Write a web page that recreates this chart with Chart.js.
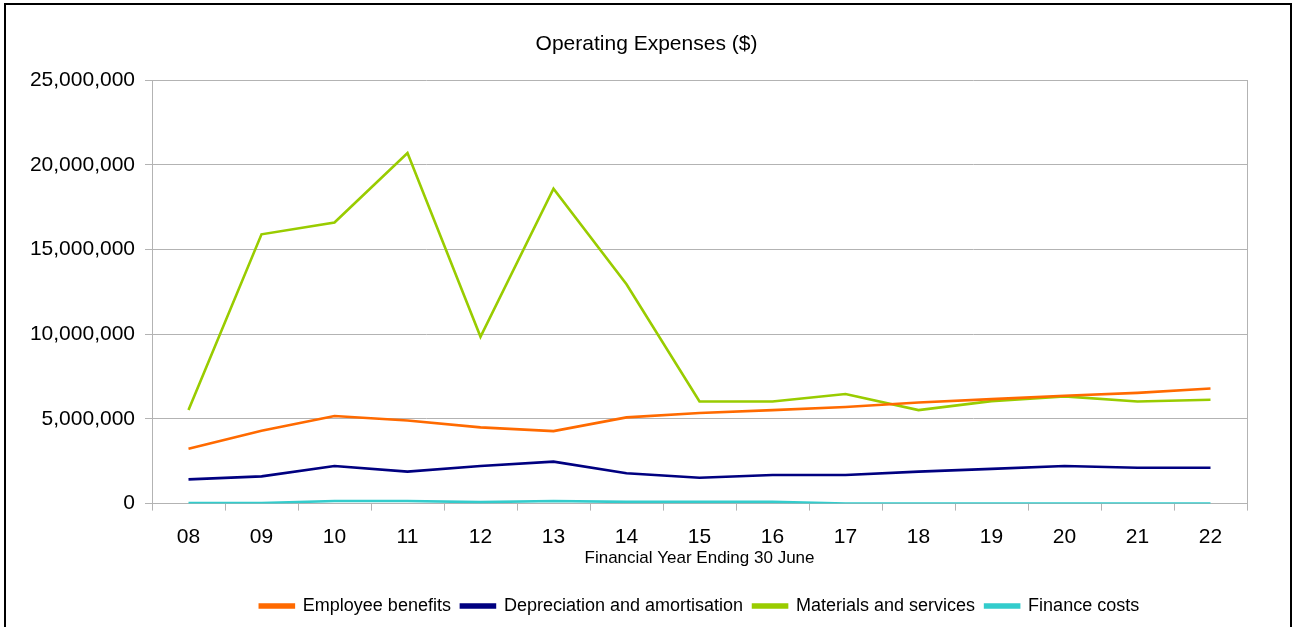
<!DOCTYPE html>
<html lang="en">
<head>
  <meta charset="UTF-8" />
  <title>Operating Expenses ($)</title>
  <style>
    body { margin: 0; background: #fff; overflow: hidden; }
    #wrap { position: absolute; left: 0; top: 0; width: 1293px; height: 627px; }
    #frame { position: absolute; left: 4px; top: 3px; width: 1284px; height: 640px; border: 2px solid #000; pointer-events: none; }
  </style>
  <script src="https://cdn.jsdelivr.net/npm/chart.js"></script>
</head>
<body>
  <div id="wrap"><canvas id="chart"></canvas></div>
  <div id="frame"></div>

  <script>
    // Werte
    const years = ['08', '09', '10', '11', '12', '13', '14', '15', '16', '17', '18', '19', '20', '21', '22'];
    const employeeBenefits = [3240000, 4300000, 5170000, 4910000, 4500000, 4280000, 5090000, 5350000, 5520000, 5700000, 5970000, 6170000, 6370000, 6540000, 6800000];
    const depreciation = [1430000, 1610000, 2220000, 1890000, 2220000, 2480000, 1790000, 1530000, 1690000, 1690000, 1890000, 2050000, 2220000, 2120000, 2120000];
    const materials = [5520000, 15900000, 16600000, 20700000, 9850000, 18600000, 12950000, 6030000, 6030000, 6470000, 5520000, 6050000, 6330000, 6030000, 6130000];
    const financeCosts = [30000, 30000, 150000, 150000, 90000, 150000, 100000, 100000, 100000, 10000, 10000, 10000, 10000, 10000, 10000];
    const yTicks = [0, 5000000, 10000000, 15000000, 20000000, 25000000];

    Chart.defaults.font.family = "'Liberation Sans', Arial, sans-serif";
    Chart.defaults.color = '#000';

    const gridGrey = '#b3b3b3';

    function line(label, data, color) {
      return { label, data, borderColor: color, backgroundColor: color, borderWidth: 2.6, pointRadius: 0, tension: 0, fill: false };
    }

    new Chart(document.getElementById('chart'), {
      type: 'line',
      data: {
        labels: years,
        datasets: [
          line('Employee benefits', employeeBenefits, '#ff6a00'),
          line('Depreciation and amortisation', depreciation, '#000080'),
          line('Materials and services', materials, '#99cc00'),
          line('Finance costs', financeCosts, '#33cccc')
        ]
      },
      options: {
        responsive: true,
        maintainAspectRatio: false,
        animation: false,
        layout: { padding: { left: 0, right: 0, top: 0, bottom: 2 } },
        plugins: {
          title: {
            display: true,
            text: 'Operating Expenses ($)',
            font: { size: 21, weight: 'normal' },
            color: '#000',
            padding: { top: 32, bottom: 23 }
          },
          legend: {
            position: 'bottom',
            fullSize: false,
            labels: { boxWidth: 34, boxHeight: 3, padding: 10, font: { size: 18 }, color: '#000' }
          },
          tooltip: { enabled: false }
        },
        scales: {
          x: {
            offset: true,
            grid: { drawOnChartArea: false, offset: true, tickLength: 7, color: gridGrey },
            border: { color: gridGrey },
            ticks: { font: { size: 21, lineHeight: 1 }, padding: 16, maxRotation: 0 },
            title: { display: true, text: 'Financial Year Ending 30 June', font: { size: 17, lineHeight: 1.2 }, padding: { top: -15, bottom: 18 } }
          },
          y: {
            min: 0,
            max: 25000000,
            afterFit: s => { s.width = 152; },
            afterBuildTicks: s => { s.ticks = yTicks.map(v => ({ value: v })); },
            grid: { color: gridGrey, tickLength: 7 },
            border: { color: gridGrey },
            ticks: { font: { size: 21 }, padding: 10, callback: v => v.toLocaleString('en-US') }
          },
          y2: {
            position: 'right',
            min: 0,
            max: 25000000,
            grid: { drawOnChartArea: false, drawTicks: false },
            border: { color: gridGrey },
            ticks: { display: false },
            afterFit: s => { s.width = 46; }
          }
        }
      }
    });
  </script>
</body>
</html>
